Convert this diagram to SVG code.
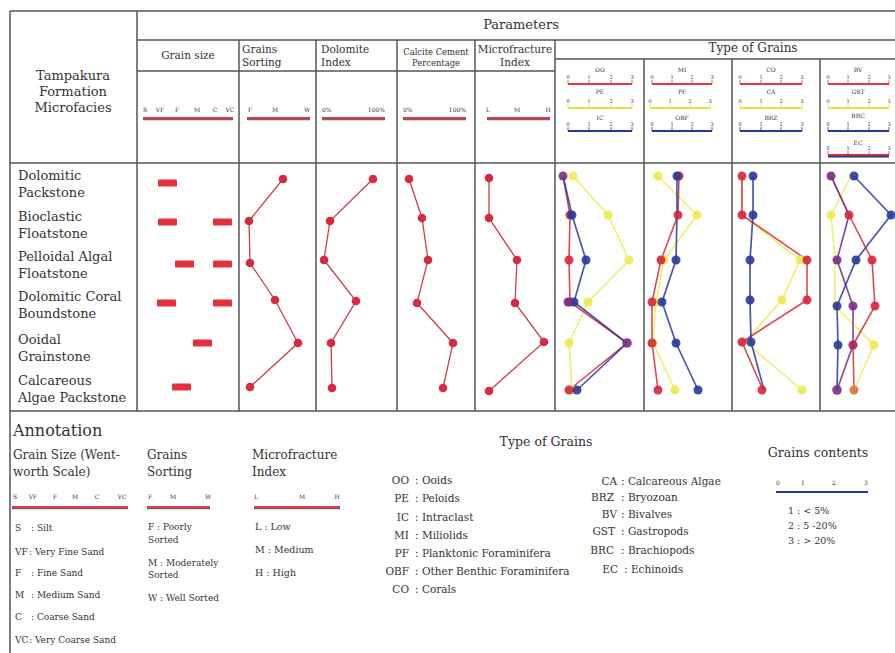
<svg xmlns="http://www.w3.org/2000/svg" width="895" height="653" viewBox="0 0 895 653">
<style>
text{font-family:"DejaVu Serif","Liberation Serif",serif;fill:#333}
.fr{stroke:#555;stroke-width:1.5;fill:none}
.h11{font-size:10.5px}
.sm{font-size:8.5px}
.tk{font-size:6px}
.tk5{font-size:5px}
.lg{font-size:9px}
.rl{font-size:13px}
.rs{stroke:#e03848;stroke-width:2.2}
.rsd{stroke:#666;stroke-width:1.3}
.ys{stroke:#e8e43c;stroke-width:2.2}
.bs{stroke:#2c3590;stroke-width:2.2}
.ps{stroke:#c2304a;stroke-width:2.2}
.tick{stroke-width:0.8}
.pr{fill:none;stroke:#c8404a;stroke-width:1.3}
.pd{fill:#d42c3c}
.bar{fill:#e6303c}
.sr{fill:none;stroke:#d6283a;stroke-width:1.6;opacity:.85}
.sb{fill:none;stroke:#2b3a9a;stroke-width:1.7;opacity:.85}
.sy{fill:none;stroke:#eeec55;stroke-width:1.5;opacity:.9}
.sp{fill:none;stroke:#7a2d86;stroke-width:1.7;opacity:.85}
.dr{fill:#d6283a;opacity:.9}
.db{fill:#2b3a9a;opacity:.9}
.dy{fill:#eeec55;opacity:.95}
.dp{fill:#7a2d86;opacity:.9}
</style>

<g id="frame">
<line class="fr" x1="10" y1="11" x2="895" y2="11"/>
<line class="fr" x1="10" y1="11" x2="10" y2="653"/>
<line class="fr" x1="137" y1="40" x2="895" y2="40"/>
<line class="fr" x1="555" y1="59" x2="895" y2="59"/>
<line class="fr" x1="137" y1="71" x2="555" y2="71"/>
<line class="fr" x1="10" y1="163" x2="895" y2="163"/>
<line class="fr" x1="10" y1="411" x2="895" y2="411"/>
<line class="fr" x1="137" y1="11" x2="137" y2="411"/>
<line class="fr" x1="239" y1="40" x2="239" y2="411"/>
<line class="fr" x1="316" y1="40" x2="316" y2="411"/>
<line class="fr" x1="397" y1="40" x2="397" y2="411"/>
<line class="fr" x1="475" y1="40" x2="475" y2="411"/>
<line class="fr" x1="555" y1="40" x2="555" y2="411"/>
<line class="fr" x1="644" y1="59" x2="644" y2="411"/>
<line class="fr" x1="732" y1="59" x2="732" y2="411"/>
<line class="fr" x1="820" y1="59" x2="820" y2="411"/>
</g>

<g id="header">
<text x="73" y="80" font-size="13" text-anchor="middle">Tampakura</text>
<text x="73" y="96" font-size="13" text-anchor="middle">Formation</text>
<text x="73" y="112" font-size="13" text-anchor="middle">Microfacies</text>
<text x="521" y="29" font-size="13" text-anchor="middle">Parameters</text>
<text x="753" y="52" font-size="12" text-anchor="middle">Type of Grains</text>
<text class="h11" x="188" y="59" text-anchor="middle">Grain size</text>
<text class="h11" x="242" y="53">Grains</text>
<text class="h11" x="242" y="66">Sorting</text>
<text class="h11" x="321" y="53">Dolomite</text>
<text class="h11" x="321" y="66">Index</text>
<text x="436" y="55" font-size="8.4" text-anchor="middle">Calcite Cement</text>
<text x="436" y="66" font-size="8.4" text-anchor="middle">Percentage</text>
<text class="h11" x="515" y="53" text-anchor="middle">Microfracture</text>
<text class="h11" x="515" y="66" text-anchor="middle">Index</text>
</g>

<g id="param-scales">
<line class="rsd" x1="143" y1="119.5" x2="233" y2="119.5"/><line class="rs" x1="143" y1="118" x2="233" y2="118"/>
<text class="tk" x="145" y="112" text-anchor="middle">S</text><text class="tk" x="160" y="112" text-anchor="middle">VF</text><text class="tk" x="177" y="112" text-anchor="middle">F</text><text class="tk" x="197" y="112" text-anchor="middle">M</text><text class="tk" x="215" y="112" text-anchor="middle">C</text><text class="tk" x="230" y="112" text-anchor="middle">VC</text>
<line class="rsd" x1="247" y1="119.5" x2="310" y2="119.5"/><line class="rs" x1="247" y1="118" x2="310" y2="118"/>
<text class="tk" x="250" y="112" text-anchor="middle">F</text><text class="tk" x="275" y="112" text-anchor="middle">M</text><text class="tk" x="307" y="112" text-anchor="middle">W</text>
<line class="rsd" x1="322" y1="119.5" x2="385" y2="119.5"/><line class="rs" x1="322" y1="118" x2="385" y2="118"/>
<text class="tk" x="322" y="112">0%</text><text class="tk" x="385" y="112" text-anchor="end">100%</text>
<line class="rsd" x1="403" y1="119.5" x2="466" y2="119.5"/><line class="rs" x1="403" y1="118" x2="466" y2="118"/>
<text class="tk" x="403" y="112">0%</text><text class="tk" x="466" y="112" text-anchor="end">100%</text>
<line class="rsd" x1="487" y1="119.5" x2="550" y2="119.5"/><line class="rs" x1="487" y1="118" x2="550" y2="118"/>
<text class="tk" x="488" y="112" text-anchor="middle">L</text><text class="tk" x="517" y="112" text-anchor="middle">M</text><text class="tk" x="548" y="112" text-anchor="middle">H</text>
</g>

<g id="grain-scales">
<text class="tk" x="600" y="72" text-anchor="middle">OO</text>
<path class="rs tick" d="M568 84v-4M589 84v-4M611 84v-4M632 84v-4"/><line class="rs" x1="568" y1="84" x2="632" y2="84"/>
<text class="tk5" x="568" y="79" text-anchor="middle">0</text><text class="tk5" x="589" y="79" text-anchor="middle">1</text><text class="tk5" x="611" y="79" text-anchor="middle">2</text><text class="tk5" x="632" y="79" text-anchor="middle">3</text>
<text class="tk" x="600" y="94" text-anchor="middle">PE</text>
<path class="ys tick" d="M568 108v-4M589 108v-4M611 108v-4M632 108v-4"/><line class="ys" x1="568" y1="108" x2="632" y2="108"/>
<text class="tk5" x="568" y="103" text-anchor="middle">0</text><text class="tk5" x="589" y="103" text-anchor="middle">1</text><text class="tk5" x="611" y="103" text-anchor="middle">2</text><text class="tk5" x="632" y="103" text-anchor="middle">3</text>
<text class="tk" x="600" y="120" text-anchor="middle">IC</text>
<path class="bs tick" d="M568 131v-4M589 131v-4M611 131v-4M632 131v-4"/><line class="bs" x1="568" y1="131" x2="632" y2="131"/>
<text class="tk5" x="568" y="126" text-anchor="middle">0</text><text class="tk5" x="589" y="126" text-anchor="middle">1</text><text class="tk5" x="611" y="126" text-anchor="middle">2</text><text class="tk5" x="632" y="126" text-anchor="middle">3</text>
<text class="tk" x="682" y="72" text-anchor="middle">MI</text>
<path class="rs tick" d="M652 84v-4M672 84v-4M692 84v-4M712 84v-4"/><line class="rs" x1="652" y1="84" x2="712" y2="84"/>
<text class="tk5" x="652" y="79" text-anchor="middle">0</text><text class="tk5" x="672" y="79" text-anchor="middle">1</text><text class="tk5" x="692" y="79" text-anchor="middle">2</text><text class="tk5" x="712" y="79" text-anchor="middle">3</text>
<text class="tk" x="682" y="94" text-anchor="middle">PF</text>
<path class="ys tick" d="M650 108v-4M670 108v-4M690 108v-4M710 108v-4"/><line class="ys" x1="650" y1="108" x2="710" y2="108"/>
<text class="tk5" x="650" y="103" text-anchor="middle">0</text><text class="tk5" x="670" y="103" text-anchor="middle">1</text><text class="tk5" x="690" y="103" text-anchor="middle">2</text><text class="tk5" x="710" y="103" text-anchor="middle">3</text>
<text class="tk" x="682" y="120" text-anchor="middle">OBF</text>
<path class="bs tick" d="M652 131v-4M672 131v-4M692 131v-4M712 131v-4"/><line class="bs" x1="652" y1="131" x2="712" y2="131"/>
<text class="tk5" x="652" y="126" text-anchor="middle">0</text><text class="tk5" x="672" y="126" text-anchor="middle">1</text><text class="tk5" x="692" y="126" text-anchor="middle">2</text><text class="tk5" x="712" y="126" text-anchor="middle">3</text>
<text class="tk" x="771" y="72" text-anchor="middle">CO</text>
<path class="rs tick" d="M740 84v-4M761 84v-4M781 84v-4M802 84v-4"/><line class="rs" x1="740" y1="84" x2="802" y2="84"/>
<text class="tk5" x="740" y="79" text-anchor="middle">0</text><text class="tk5" x="761" y="79" text-anchor="middle">1</text><text class="tk5" x="781" y="79" text-anchor="middle">2</text><text class="tk5" x="802" y="79" text-anchor="middle">3</text>
<text class="tk" x="771" y="94" text-anchor="middle">CA</text>
<path class="ys tick" d="M740 108v-4M761 108v-4M781 108v-4M802 108v-4"/><line class="ys" x1="740" y1="108" x2="802" y2="108"/>
<text class="tk5" x="740" y="103" text-anchor="middle">0</text><text class="tk5" x="761" y="103" text-anchor="middle">1</text><text class="tk5" x="781" y="103" text-anchor="middle">2</text><text class="tk5" x="802" y="103" text-anchor="middle">3</text>
<text class="tk" x="771" y="120" text-anchor="middle">BRZ</text>
<path class="bs tick" d="M740 131v-4M761 131v-4M781 131v-4M802 131v-4"/><line class="bs" x1="740" y1="131" x2="802" y2="131"/>
<text class="tk5" x="740" y="126" text-anchor="middle">0</text><text class="tk5" x="761" y="126" text-anchor="middle">1</text><text class="tk5" x="781" y="126" text-anchor="middle">2</text><text class="tk5" x="802" y="126" text-anchor="middle">3</text>
<text class="tk" x="858" y="72" text-anchor="middle">BV</text>
<path class="rs tick" d="M828 84v-4M848 84v-4M869 84v-4M889 84v-4"/><line class="rs" x1="828" y1="84" x2="889" y2="84"/>
<text class="tk5" x="828" y="79" text-anchor="middle">0</text><text class="tk5" x="848" y="79" text-anchor="middle">1</text><text class="tk5" x="869" y="79" text-anchor="middle">2</text><text class="tk5" x="889" y="79" text-anchor="middle">3</text>
<text class="tk" x="858" y="94" text-anchor="middle">GST</text>
<path class="ys tick" d="M828 108v-4M848 108v-4M869 108v-4M889 108v-4"/><line class="ys" x1="828" y1="108" x2="889" y2="108"/>
<text class="tk5" x="828" y="103" text-anchor="middle">0</text><text class="tk5" x="848" y="103" text-anchor="middle">1</text><text class="tk5" x="869" y="103" text-anchor="middle">2</text><text class="tk5" x="889" y="103" text-anchor="middle">3</text>
<text class="tk" x="858" y="118" text-anchor="middle">BRC</text>
<path class="bs tick" d="M828 131v-4M848 131v-4M869 131v-4M889 131v-4"/><line class="bs" x1="828" y1="131" x2="889" y2="131"/>
<text class="tk5" x="828" y="126" text-anchor="middle">0</text><text class="tk5" x="848" y="126" text-anchor="middle">1</text><text class="tk5" x="869" y="126" text-anchor="middle">2</text><text class="tk5" x="889" y="126" text-anchor="middle">3</text>
<text class="tk" x="858" y="145" text-anchor="middle">EC</text>
<path class="ps tick" d="M828 155v-4M848 155v-4M869 155v-4M889 155v-4"/><line class="bs" x1="828" y1="156.5" x2="889" y2="156.5"/><line class="ps" x1="828" y1="155" x2="889" y2="155"/>
<text class="tk5" x="828" y="150" text-anchor="middle">0</text><text class="tk5" x="848" y="150" text-anchor="middle">1</text><text class="tk5" x="869" y="150" text-anchor="middle">2</text><text class="tk5" x="889" y="150" text-anchor="middle">3</text>
</g>

<g id="rows">
<text class="rl" x="18" y="180">Dolomitic</text>
<text class="rl" x="18" y="197">Packstone</text>
<text class="rl" x="18" y="221">Bioclastic</text>
<text class="rl" x="18" y="238">Floatstone</text>
<text class="rl" x="18" y="261">Pelloidal Algal</text>
<text class="rl" x="18" y="278">Floatstone</text>
<text class="rl" x="18" y="301">Dolomitic Coral</text>
<text class="rl" x="18" y="318">Boundstone</text>
<text class="rl" x="18" y="344">Ooidal</text>
<text class="rl" x="18" y="361">Grainstone</text>
<text class="rl" x="18" y="385">Calcareous</text>
<text class="rl" x="18" y="402">Algae Packstone</text>
</g>

<g id="grain-size">
<rect class="bar" x="158" y="179.5" width="19" height="7" rx="1"/>
<rect class="bar" x="158" y="218.5" width="19" height="7" rx="1"/>
<rect class="bar" x="213" y="218.5" width="19" height="7" rx="1"/>
<rect class="bar" x="175" y="260.5" width="19" height="7" rx="1"/>
<rect class="bar" x="213" y="260.5" width="19" height="7" rx="1"/>
<rect class="bar" x="157" y="299.5" width="19" height="7" rx="1"/>
<rect class="bar" x="213" y="299.5" width="19" height="7" rx="1"/>
<rect class="bar" x="193" y="339.5" width="19" height="7" rx="1"/>
<rect class="bar" x="172" y="383.5" width="19" height="7" rx="1"/>
</g>

<g id="param-plots">
<polyline class="pr" points="283,179 249,221 250,263 275,300 298,343 250,387"/>
<g class="pd"><circle cx="283" cy="179" r="4.3"/><circle cx="249" cy="221" r="4.3"/><circle cx="250" cy="263" r="4.3"/><circle cx="275" cy="300" r="4.3"/><circle cx="298" cy="343" r="4.3"/><circle cx="250" cy="387" r="4.3"/></g>
<polyline class="pr" points="373,179 330,221 324,260 356,301 331,343 332,388"/>
<g class="pd"><circle cx="373" cy="179" r="4.3"/><circle cx="330" cy="221" r="4.3"/><circle cx="324" cy="260" r="4.3"/><circle cx="356" cy="301" r="4.3"/><circle cx="331" cy="343" r="4.3"/><circle cx="332" cy="388" r="4.3"/></g>
<polyline class="pr" points="409,179 422,218 428,260 417,303 453,343 443,388"/>
<g class="pd"><circle cx="409" cy="179" r="4.3"/><circle cx="422" cy="218" r="4.3"/><circle cx="428" cy="260" r="4.3"/><circle cx="417" cy="303" r="4.3"/><circle cx="453" cy="343" r="4.3"/><circle cx="443" cy="388" r="4.3"/></g>
<polyline class="pr" points="489,178 489,218 517,260 515,303 544,342 489,391"/>
<g class="pd"><circle cx="489" cy="178" r="4.3"/><circle cx="489" cy="218" r="4.3"/><circle cx="517" cy="260" r="4.3"/><circle cx="515" cy="303" r="4.3"/><circle cx="544" cy="342" r="4.3"/><circle cx="489" cy="391" r="4.3"/></g>
</g>

<g id="grain-plots">
<polyline class="sy" points="573,176 608,215 629,260 588,302 569,343 572,390"/>
<polyline class="sr" points="563,176 570,215 569,260 570,302 627,343 569,390"/>
<polyline class="sb" points="563,176 572,215 586,260 574,302 627,343 577,390"/>
<g class="dy"><circle cx="573" cy="176" r="4.5"/><circle cx="608" cy="215" r="4.5"/><circle cx="629" cy="260" r="4.5"/><circle cx="588" cy="302" r="4.5"/><circle cx="569" cy="343" r="4.5"/><circle cx="572" cy="390" r="4.5"/></g>
<g class="dr"><circle cx="570" cy="215" r="4.5"/><circle cx="569" cy="260" r="4.5"/><circle cx="570" cy="302" r="4.5"/><circle cx="569" cy="390" r="4.5"/></g>
<g class="db"><circle cx="572" cy="215" r="4.5"/><circle cx="586" cy="260" r="4.5"/><circle cx="574" cy="302" r="4.5"/><circle cx="577" cy="390" r="4.5"/></g>
<g class="dp"><circle cx="563" cy="176" r="4.5"/><circle cx="627" cy="343" r="4.8"/><circle cx="568" cy="302" r="4.5"/></g>
<polyline class="sy" points="658,176 697,215 664,260 656,302 653,343 675,390"/>
<polyline class="sr" points="679,176 678,215 661,260 652,302 652,343 658,390"/>
<polyline class="sb" points="677,176 677,215 676,260 662,302 676,343 698,390"/>
<g class="dy"><circle cx="658" cy="176" r="4.5"/><circle cx="697" cy="215" r="4.5"/><circle cx="664" cy="260" r="4.5"/><circle cx="656" cy="302" r="4.5"/><circle cx="653" cy="343" r="4.5"/><circle cx="675" cy="390" r="4.5"/></g>
<g class="dr"><circle cx="679" cy="176" r="4.5"/><circle cx="678" cy="215" r="4.5"/><circle cx="661" cy="260" r="4.5"/><circle cx="652" cy="302" r="4.5"/><circle cx="652" cy="343" r="4.5"/><circle cx="658" cy="390" r="4.5"/></g>
<g class="db"><circle cx="677" cy="176" r="4.5"/><circle cx="676" cy="260" r="4.5"/><circle cx="662" cy="302" r="4.5"/><circle cx="676" cy="343" r="4.5"/><circle cx="698" cy="390" r="4.5"/></g>
<polyline class="sy" points="742,176 742,215 800,260 782,300 745,342 802,390"/>
<polyline class="sr" points="742,176 742,215 807,260 807,300 742,342 763,390"/>
<polyline class="sb" points="753,176 753,215 750,260 750,300 751,342 764,390"/>
<g class="dy"><circle cx="800" cy="260" r="4.5"/><circle cx="782" cy="300" r="4.5"/><circle cx="802" cy="390" r="4.5"/></g>
<g class="dr"><circle cx="742" cy="176" r="4.5"/><circle cx="742" cy="215" r="4.5"/><circle cx="807" cy="260" r="4.5"/><circle cx="807" cy="300" r="4.5"/><circle cx="742" cy="342" r="4.5"/><circle cx="762" cy="390" r="4.5"/></g>
<g class="db"><circle cx="753" cy="176" r="4.5"/><circle cx="753" cy="215" r="4.5"/><circle cx="750" cy="260" r="4.5"/><circle cx="750" cy="300" r="4.5"/><circle cx="751" cy="342" r="4.5"/></g>
<polyline class="sy" points="851,176 831,215 835,260 835,306 874,345 854,390"/>
<polyline class="sr" points="831,176 849,215 872,260 875,306 853,345 854,390"/>
<polyline class="sp" points="831,176 849,215 837,260 853,306 853,345 837,390"/>
<polyline class="sb" points="854,176 891,215 856,260 837,306 838,345 837,390"/>
<g class="dy"><circle cx="831" cy="215" r="4.5"/><circle cx="874" cy="345" r="4.5"/><circle cx="854" cy="390" r="4.5"/></g>
<g class="dr"><circle cx="849" cy="215" r="4.5"/><circle cx="872" cy="260" r="4.5"/><circle cx="875" cy="306" r="4.5"/><circle cx="853" cy="345" r="4.5"/><circle cx="854" cy="390" r="4.5" opacity=".6"/></g>
<g class="dp"><circle cx="831" cy="176" r="4.5"/><circle cx="837" cy="260" r="4.5"/><circle cx="853" cy="306" r="4.5"/><circle cx="853" cy="345" r="4.5" opacity=".5"/><circle cx="837" cy="390" r="4.8"/></g>
<g class="db"><circle cx="854" cy="176" r="4.5"/><circle cx="891" cy="215" r="4.5"/><circle cx="856" cy="260" r="4.5"/><circle cx="837" cy="306" r="4.5"/><circle cx="838" cy="345" r="4.5"/></g>
</g>

<g id="annotation">
<text x="13" y="436" font-size="16">Annotation</text>
<text x="13" y="459" font-size="12">Grain Size (Went-</text>
<text x="13" y="476" font-size="12">worth Scale)</text>
<text class="tk" x="15" y="499" text-anchor="middle">S</text><text class="tk" x="33" y="499" text-anchor="middle">VF</text><text class="tk" x="55" y="499" text-anchor="middle">F</text><text class="tk" x="75" y="499" text-anchor="middle">M</text><text class="tk" x="97" y="499" text-anchor="middle">C</text><text class="tk" x="122" y="499" text-anchor="middle">VC</text>
<line class="rsd" x1="12" y1="508.5" x2="128" y2="508.5"/><line class="rs" x1="12" y1="507" x2="128" y2="507"/>
<g class="lg">
<text x="15" y="531">S</text><text x="31" y="531">: Silt</text>
<text x="15" y="555">VF</text><text x="29" y="555">: Very Fine Sand</text>
<text x="15" y="576">F</text><text x="31" y="576">: Fine Sand</text>
<text x="15" y="598">M</text><text x="31" y="598">: Medium Sand</text>
<text x="15" y="620">C</text><text x="31" y="620">: Coarse Sand</text>
<text x="15" y="643">VC</text><text x="29" y="643">: Very Coarse Sand</text>
</g>

<text x="147" y="459" font-size="12">Grains</text>
<text x="147" y="476" font-size="12">Sorting</text>
<text class="tk" x="150" y="499" text-anchor="middle">F</text><text class="tk" x="173" y="499" text-anchor="middle">M</text><text class="tk" x="208" y="499" text-anchor="middle">W</text>
<line class="rsd" x1="147" y1="508.5" x2="210" y2="508.5"/><line class="rs" x1="147" y1="507" x2="210" y2="507"/>
<g class="lg">
<text x="148" y="530">F  :  Poorly</text>
<text x="148" y="543">Sorted</text>
<text x="148" y="566">M  :  Moderately</text>
<text x="148" y="578">Sorted</text>
<text x="148" y="601">W  :  Well Sorted</text>
</g>

<text x="252" y="459" font-size="12">Microfracture</text>
<text x="252" y="476" font-size="12">Index</text>
<text class="tk" x="256" y="499" text-anchor="middle">L</text><text class="tk" x="302" y="499" text-anchor="middle">M</text><text class="tk" x="337" y="499" text-anchor="middle">H</text>
<line class="rsd" x1="254" y1="508.5" x2="340" y2="508.5"/><line class="rs" x1="254" y1="507" x2="340" y2="507"/>
<g font-size="9.5">
<text x="255" y="530">L  :  Low</text>
<text x="255" y="553">M  :  Medium</text>
<text x="255" y="576">H  :  High</text>
</g>

<text x="546" y="446" font-size="12.5" text-anchor="middle">Type of Grains</text>
<g font-size="10.5">
<text x="409" y="484" text-anchor="end">OO</text><text x="415" y="484">: Ooids</text>
<text x="409" y="502" text-anchor="end">PE</text><text x="415" y="502">: Peloids</text>
<text x="409" y="521" text-anchor="end">IC</text><text x="415" y="521">: Intraclast</text>
<text x="409" y="539" text-anchor="end">MI</text><text x="415" y="539">: Miliolids</text>
<text x="409" y="557" text-anchor="end">PF</text><text x="415" y="557">: Planktonic Foraminifera</text>
<text x="409" y="575" text-anchor="end">OBF</text><text x="415" y="575">: Other Benthic Foraminifera</text>
<text x="409" y="593" text-anchor="end">CO</text><text x="415" y="593">: Corals</text>
<text x="617" y="485" text-anchor="end">CA</text><text x="621" y="485">: Calcareous Algae</text>
<text x="614" y="501" text-anchor="end">BRZ</text><text x="621" y="501">: Bryozoan</text>
<text x="617" y="518" text-anchor="end">BV</text><text x="621" y="518">: Bivalves</text>
<text x="615" y="535" text-anchor="end">GST</text><text x="621" y="535">: Gastropods</text>
<text x="614" y="554" text-anchor="end">BRC</text><text x="621" y="554">: Brachiopods</text>
<text x="618" y="573" text-anchor="end">EC</text><text x="624" y="573">: Echinoids</text>
</g>

<text x="818" y="457" font-size="12.5" text-anchor="middle">Grains contents</text>
<text class="tk" x="778" y="485" text-anchor="middle">0</text><text class="tk" x="803" y="485" text-anchor="middle">1</text><text class="tk" x="834" y="485" text-anchor="middle">2</text><text class="tk" x="866" y="485" text-anchor="middle">3</text>
<line class="bs" x1="776" y1="492" x2="868" y2="492"/>
<g font-size="9.5">
<text x="788" y="514">1  : &lt; 5%</text>
<text x="788" y="529">2  : 5 -20%</text>
<text x="788" y="544">3  : &gt; 20%</text>
</g>
</g>
</svg>
